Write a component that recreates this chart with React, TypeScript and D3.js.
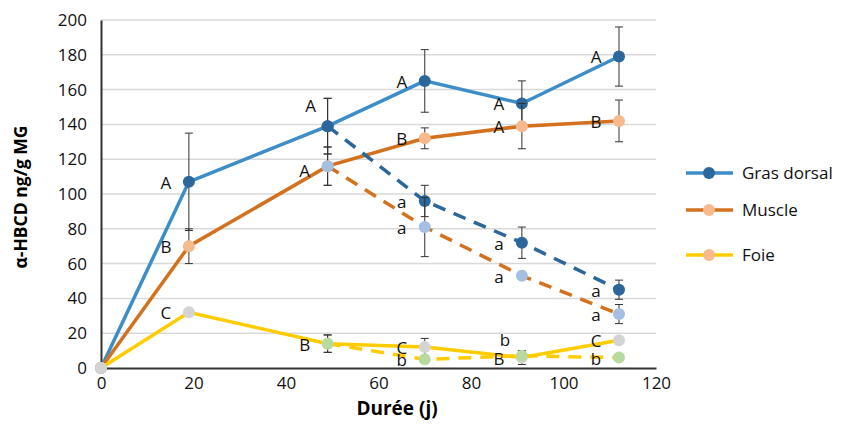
import React, { useEffect, useRef } from 'react';
import * as d3 from 'd3';

// sampling days (j)
const days = [0, 19, 49, 70, 91, 112];
const depDays = [49, 70, 91, 112];

// exposure phase, ng/g MG
const grasDorsal = [0, 107, 139, 165, 152, 179];
const grasDorsalErr = [0, 28, 16, 18, 13, 17];
const muscle = [0, 70, 116, 132, 139, 142];
const muscleErr = [0, 10, 11, 6, 13, 12];
const foie = [0, 32, 14, 12, 6, 16];
const foieErr = [0, 0, 5, 5, 4, 0];

// depuration phase
const grasDorsalDep = [139, 96, 72, 45];
const grasDorsalDepErr = [16, 9, 9, 5.5];
const muscleDep = [116, 81, 53, 31];
const muscleDepErr = [11, 17, 0, 5.5];
const foieDep = [14, 5, 7, 6];
const foieDepErr = [5, 0, 0, 0];

// letters (statistical groups)
const grasLetters = ['', 'A', 'A', 'A', 'A', 'A'];
const muscleLetters = ['', 'B', 'A', 'B', 'A', 'B'];
const foieLetters = ['', 'C', 'B', 'C', 'B', 'C'];
const grasDepLetters = ['', 'a', 'a', 'a'];
const muscleDepLetters = ['', 'a', 'a', 'a'];
const foieDepLetters = ['', 'b', 'b', 'b'];

const yTicks = [0, 20, 40, 60, 80, 100, 120, 140, 160, 180, 200];
const xTicks = [0, 20, 40, 60, 80, 100, 120];
const legendNames = ['Gras dorsal', 'Muscle', 'Foie'];

const FONT = '"Open Sans", "Noto Sans", sans-serif';

const App = () => {
    const chartRef = useRef<SVGSVGElement>(null);

    useEffect(() => {
        if (chartRef.current) {
            drawChart();
        }
    }, []);

    const drawChart = () => {
        const svg = d3.select(chartRef.current);
        svg.selectAll('*').remove();

        const left = 101;
        const right = 656;
        const top = 20;
        const bottom = 368;

        const x = d3.scaleLinear().domain([0, 120]).range([left, right]);
        const y = d3.scaleLinear().domain([0, 200]).range([bottom, top]);

        // gridlines
        svg.append('g')
            .selectAll('line')
            .data(yTicks.slice(1))
            .enter()
            .append('line')
            .attr('x1', left)
            .attr('x2', right)
            .attr('y1', d => y(d))
            .attr('y2', d => y(d))
            .attr('stroke', '#d9d9d9')
            .attr('stroke-width', 1.5);

        // axes
        const yAxis = svg.append('g')
            .attr('transform', `translate(${left},0)`)
            .call(d3.axisLeft(y).tickValues(yTicks).tickSize(0).tickPadding(14));
        const xAxis = svg.append('g')
            .attr('transform', `translate(0,${bottom})`)
            .call(d3.axisBottom(x).tickValues(xTicks).tickSize(0).tickPadding(9));
        [yAxis, xAxis].forEach(a => {
            a.select('.domain').attr('stroke', '#333').attr('stroke-width', 2);
            a.selectAll('text')
                .attr('font-family', FONT)
                .attr('font-size', 17)
                .attr('fill', '#111');
        });

        svg.append('text')
            .attr('transform', 'translate(27,197) rotate(-90)')
            .attr('text-anchor', 'middle')
            .attr('font-family', FONT)
            .attr('font-size', 17.5)
            .attr('font-weight', 'bold')
            .text('α-HBCD ng/g MG');

        svg.append('text')
            .attr('x', 397)
            .attr('y', 415)
            .attr('text-anchor', 'middle')
            .attr('font-family', FONT)
            .attr('font-size', 19)
            .attr('font-weight', 'bold')
            .text('Durée (j)');

        const series = [
            { xs: days, ys: grasDorsal, err: grasDorsalErr, letters: grasLetters, line: '#3d8dc9', marker: '#2b679a', dash: null },
            { xs: days, ys: muscle, err: muscleErr, letters: muscleLetters, line: '#d3711e', marker: '#f6ba8d', dash: null },
            { xs: days, ys: foie, err: foieErr, letters: foieLetters, line: '#ffcc00', marker: '#d4d4d4', dash: null },
            { xs: depDays, ys: grasDorsalDep, err: grasDorsalDepErr, letters: grasDepLetters, line: '#2b679a', marker: '#2b679a', dash: '13,9' },
            { xs: depDays, ys: muscleDep, err: muscleDepErr, letters: muscleDepLetters, line: '#d3711e', marker: '#a5bfe3', dash: '13,9' },
            { xs: depDays, ys: foieDep, err: foieDepErr, letters: foieDepLetters, line: '#ffcc00', marker: '#b8d99f', dash: '13,9' },
        ];

        // label offsets: default left of point, a few moved up
        const labelShift = (si: number, i: number) => {
            if (si === 0 && i === 2) return [-17, -20];
            if (si === 5 && i === 2) return [-17, -16];
            if (si === 1 && i === 2) return [-23, 5];
            return [-23, 1];
        };

        const line = d3.line<number>();

        series.forEach((s, si) => {
            const g = svg.append('g');
            const pts = s.xs.map((d, i) => [x(d), y(s.ys[i])] as [number, number]);

            g.append('path')
                .attr('d', line(pts))
                .attr('fill', 'none')
                .attr('stroke', s.line)
                .attr('stroke-width', 3.5)
                .attr('stroke-dasharray', s.dash);

            const bars = s.xs.map((d, i) => ({ d, v: s.ys[i], e: s.err[i] })).filter(b => b.e > 0);
            const eb = g.selectAll('g.err').data(bars).enter().append('g');
            eb.append('line')
                .attr('x1', b => x(b.d)).attr('x2', b => x(b.d))
                .attr('y1', b => y(b.v + b.e)).attr('y2', b => y(b.v - b.e))
                .attr('stroke', '#333').attr('stroke-width', 1);
            [1, -1].forEach(sign => {
                eb.append('line')
                    .attr('x1', b => x(b.d) - 4).attr('x2', b => x(b.d) + 4)
                    .attr('y1', b => y(b.v + sign * b.e)).attr('y2', b => y(b.v + sign * b.e))
                    .attr('stroke', '#333').attr('stroke-width', 1);
            });

            g.selectAll('circle')
                .data(pts)
                .enter()
                .append('circle')
                .attr('cx', p => p[0])
                .attr('cy', p => p[1])
                .attr('r', 6)
                .attr('fill', s.marker);

            g.selectAll('text')
                .data(s.letters)
                .enter()
                .append('text')
                .attr('x', (t, i) => pts[i][0] + labelShift(si, i)[0])
                .attr('y', (t, i) => pts[i][1] + labelShift(si, i)[1])
                .attr('dy', '0.35em')
                .attr('text-anchor', 'middle')
                .attr('font-family', FONT)
                .attr('font-size', 17)
                .attr('fill', '#111')
                .text(t => t);
        });

        // legend
        const legendRows = [173, 210, 255];
        const legend = svg.append('g');
        legendNames.forEach((name, i) => {
            const s = series[i];
            const ly = legendRows[i];
            legend.append('line')
                .attr('x1', 686).attr('x2', 733)
                .attr('y1', ly).attr('y2', ly)
                .attr('stroke', s.line).attr('stroke-width', 3.5);
            legend.append('circle')
                .attr('cx', 709).attr('cy', ly).attr('r', 6)
                .attr('fill', i === 0 ? s.marker : '#f6ba8d');
            legend.append('text')
                .attr('x', 742).attr('y', ly)
                .attr('dy', '0.35em')
                .attr('font-family', FONT)
                .attr('font-size', 17)
                .attr('fill', '#111')
                .text(name);
        });
    };

    return (
        <svg
            ref={chartRef}
            width="841"
            height="426"
            style={{ position: 'absolute', left: 0, top: 0, background: '#fff' }}
        />
    );
};

export default App;
